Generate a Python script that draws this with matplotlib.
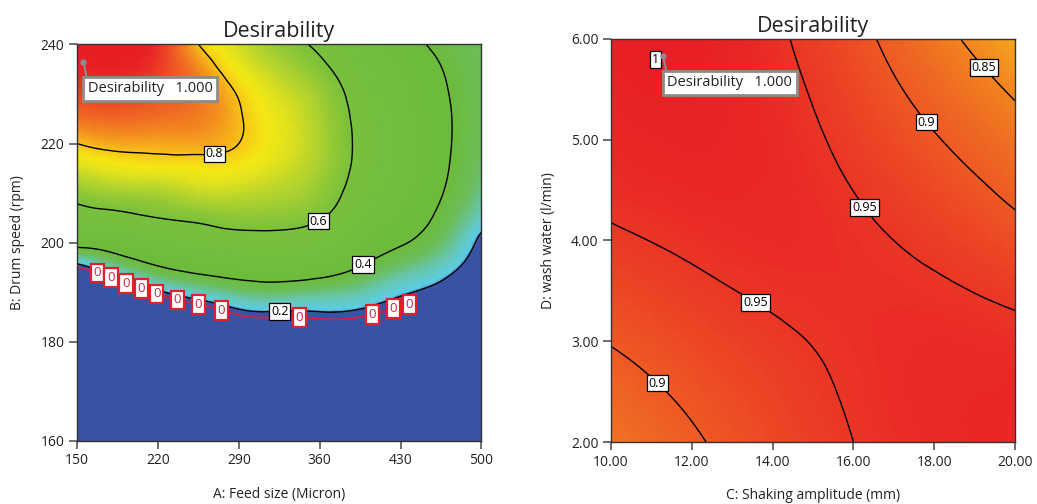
import numpy as np
import matplotlib
matplotlib.use("Agg")
import matplotlib.pyplot as plt
import matplotlib.tri as mtri
from matplotlib.colors import LinearSegmentedColormap

plt.rcParams['font.family'] = ['Open Sans', 'DejaVu Sans']

# ---------------- Left panel: A (Feed size) x B (Drum speed) ----------------
feed_size = [150, 185, 220, 255, 290, 325, 360, 395, 430, 465, 500]
drum_speed = [160, 170, 180, 185, 190, 195, 200, 205, 210, 215, 220, 225, 230, 235, 240]
# desirability response (rows = drum speed, cols = feed size);
# values below the 0.2 cut are shown as 0 (blue zone)
desir_feed_drum = [
    [-1.95, -1.75, -1.25, -1.05, -0.85, -0.80, -0.78, -0.72, -0.65, -0.60, -0.65],
    [-1.35, -1.15, -0.75, -0.60, -0.45, -0.40, -0.38, -0.33, -0.30, -0.30, -0.40],
    [-0.75, -0.56, -0.28, -0.15, -0.05, -0.02, 0.00, 0.02, 0.00, -0.04, -0.15],
    [-0.45, -0.27, -0.05, 0.06, 0.145, 0.16, 0.17, 0.16, 0.12, 0.07, -0.05],
    [-0.15, 0.02, 0.18, 0.26, 0.315, 0.33, 0.31, 0.28, 0.215, 0.16, 0.05],
    [0.15, 0.29, 0.39, 0.44, 0.47, 0.48, 0.46, 0.395, 0.32, 0.25, 0.13],
    [0.44, 0.47, 0.51, 0.54, 0.56, 0.565, 0.54, 0.47, 0.41, 0.33, 0.17],
    [0.55, 0.575, 0.60, 0.62, 0.64, 0.635, 0.607, 0.52, 0.455, 0.378, 0.25],
    [0.64, 0.67, 0.68, 0.71, 0.71, 0.69, 0.65, 0.555, 0.48, 0.405, 0.30],
    [0.73, 0.755, 0.765, 0.77, 0.765, 0.73, 0.675, 0.575, 0.495, 0.417, 0.33],
    [0.80, 0.82, 0.82, 0.822, 0.80, 0.75, 0.685, 0.58, 0.50, 0.421, 0.345],
    [0.87, 0.88, 0.87, 0.855, 0.806, 0.75, 0.68, 0.575, 0.495, 0.42, 0.35],
    [0.93, 0.94, 0.91, 0.865, 0.795, 0.73, 0.665, 0.56, 0.48, 0.413, 0.35],
    [0.98, 0.99, 0.94, 0.845, 0.76, 0.695, 0.625, 0.535, 0.465, 0.402, 0.345],
    [1.02, 1.03, 0.96, 0.80, 0.725, 0.65, 0.58, 0.51, 0.44, 0.38, 0.34],
]
left_levels = [0.2, 0.4, 0.6, 0.8]
left_label_pos = [(268, 219.5), (352, 207.5), (395.5, 196.5), (325, 187.9)]
zero_cut = 0.2
zero_line_level = 0.16
zero_line_max_feed = 440
zero_label_pos = [(168.5, 194.6), (180.6, 193.7), (193.5, 192.6), (207.4, 191.7),
                  (220.3, 190.6), (238.3, 189.7), (255.6, 188.4), (276.6, 187.6),
                  (343.0, 186.8), (403.5, 187.6), (421.4, 188.6), (434.7, 189.8)]
opt_left = (155.5, 236.5)

# ---------------- Right panel: C (Shaking amplitude) x D (wash water) ----------------
shaking_amp = [10, 12, 14, 16, 18, 20]
wash_water = [2, 3, 4, 5, 6]
desir_shake_wash = [
    [0.868, 0.895, 0.923, 0.950, 0.968, 0.978],
    [0.902, 0.923, 0.943, 0.958, 0.966, 0.962],
    [0.943, 0.958, 0.966, 0.958, 0.940, 0.915],
    [0.975, 0.983, 0.970, 0.938, 0.903, 0.868],
    [0.993, 0.995, 0.960, 0.914, 0.865, 0.820],
]
right_levels = [0.85, 0.9, 0.95]
right_label_pos = [(19.3, 5.74), (17.88, 5.2), (16.12, 4.28), (13.75, 3.49), (11.28, 2.64)]
opt_right = (11.29, 5.83)
opt_value = 1.000

# Design-Expert like colour ramp
cmap = LinearSegmentedColormap.from_list('dx', [
    (0.00, '#3953a4'), (0.195, '#3f70b9'), (0.21, '#5ccde6'), (0.27, '#66c7b4'),
    (0.34, '#6cbd5a'), (0.40, '#6cbb3c'), (0.60, '#78c03d'), (0.65, '#92c936'),
    (0.70, '#b8d52d'), (0.74, '#e0e21e'), (0.77, '#f5e814'), (0.795, '#f7cd17'),
    (0.815, '#f6b01b'), (0.845, '#f38a1f'), (0.88, '#ef6a23'), (0.93, '#ec4425'),
    (0.97, '#e92a26'), (1.00, '#e81e25')])


def smooth_field(xs, ys, z, subdiv=4):
    xs = np.asarray(xs, float)
    ys = np.asarray(ys, float)
    z = np.asarray(z, float)
    u = (xs - xs.min()) / (xs.max() - xs.min())
    v = (ys - ys.min()) / (ys.max() - ys.min())
    U, V = np.meshgrid(u, v)
    nx, ny = len(xs), len(ys)
    tris = []
    for j in range(ny - 1):
        for i in range(nx - 1):
            a = j * nx + i
            tris.append([a, a + 1, a + nx + 1])
            tris.append([a, a + nx + 1, a + nx])
    t = mtri.Triangulation(U.ravel(), V.ravel(), np.array(tris))
    interp = mtri.CubicTriInterpolator(t, z.ravel(), kind='min_E')
    tr, zr = mtri.UniformTriRefiner(t).refine_field(z.ravel(), triinterpolator=interp,
                                                     subdiv=subdiv)
    x = xs.min() + tr.x * (xs.max() - xs.min())
    y = ys.min() + tr.y * (ys.max() - ys.min())
    return mtri.Triangulation(x, y, tr.triangles), zr


def style_axes(ax):
    for s in ax.spines.values():
        s.set_linewidth(1.0)
        s.set_color('#333333')
    ax.tick_params(direction='out', length=6, width=1.2, color='#555555',
                   labelsize=10, labelcolor='#222222', pad=3)


def box_labels(texts, ec, lw, pad=0.15):
    for t in texts:
        t.set_rotation(0)
        t.set_bbox(dict(boxstyle=f'square,pad={pad}', fc='white', ec=ec, lw=lw))
        t.set_zorder(8)


def flag(ax, pt, value):
    ax.plot([pt[0]], [pt[1]], 'o', ms=3.5, color='#8c8c8c', zorder=9)
    ax.annotate(f'Desirability   {value:.3f}', xy=pt, xytext=(3, -14),
                textcoords='offset points', ha='left', va='top', fontsize=10.5,
                color='#222222', zorder=9,
                bbox=dict(boxstyle='square,pad=0.3', fc='white', ec='#8c8c8c', lw=2),
                arrowprops=dict(arrowstyle='-', color='#8c8c8c', lw=1.5,
                                shrinkA=0, shrinkB=0, relpos=(0, 1)))


fig = plt.figure(figsize=(10.37, 5.04), dpi=100)

# ---- left
ax1 = fig.add_axes([0.0743, 0.125, 0.390, 0.787])
tri1, z1 = smooth_field(feed_size, drum_speed, desir_feed_drum)
d1 = np.where(z1 < zero_cut, 0.0, np.clip(z1, 0, 1))
ax1.tripcolor(tri1, d1, shading='gouraud', cmap=cmap, vmin=0, vmax=1)
cs1 = ax1.tricontour(tri1, z1, levels=left_levels, colors='black', linewidths=1.0)
zmask = tri1.x[tri1.triangles].mean(axis=1) > zero_line_max_feed
tri1z = mtri.Triangulation(tri1.x, tri1.y, tri1.triangles, mask=zmask)
cz1 = ax1.tricontour(tri1z, z1, levels=[zero_line_level], colors='#d0204a', linewidths=1.3)
lab1 = ax1.clabel(cs1, fmt='%g', manual=left_label_pos, inline=False, fontsize=9)
box_labels(lab1, 'black', 0.9)
lab0 = ax1.clabel(cz1, fmt=lambda v: '0', manual=zero_label_pos, inline=False, fontsize=9.5)
box_labels(lab0, '#e0202a', 1.6, pad=0.22)
flag(ax1, opt_left, opt_value)
ax1.set_xlim(150, 500)
ax1.set_ylim(160, 240)
ax1.set_xticks([150, 220, 290, 360, 430, 500])
ax1.set_yticks([160, 180, 200, 220, 240])
style_axes(ax1)
ax1.set_title('Desirability', fontsize=15.5, pad=5, color='#222222')
ax1.set_xlabel('A: Feed size (Micron)', fontsize=10, labelpad=13, color='#222222')
ax1.set_ylabel('B: Drum speed (rpm)', fontsize=10, labelpad=11, color='#222222')

# ---- right
ax2 = fig.add_axes([0.5892, 0.123, 0.3896, 0.800])
tri2, z2 = smooth_field(shaking_amp, wash_water, desir_shake_wash)
ax2.tripcolor(tri2, np.clip(z2, 0, 1), shading='gouraud', cmap=cmap, vmin=0, vmax=1)
cs2 = ax2.tricontour(tri2, z2, levels=right_levels, colors='black', linewidths=1.0)
lab2 = ax2.clabel(cs2, fmt='%g', manual=right_label_pos, inline=False, fontsize=9)
box_labels(lab2, 'black', 0.9)
ax2.annotate('1', xy=opt_right, xytext=(-5.5, -2.5), textcoords='offset points',
             ha='center', va='center', fontsize=9, zorder=9,
             bbox=dict(boxstyle='square,pad=0.15', fc='white', ec='black', lw=0.9))
flag(ax2, opt_right, opt_value)
ax2.set_xlim(10, 20)
ax2.set_ylim(2, 6)
ax2.set_xticks(shaking_amp)
ax2.set_yticks(wash_water)
ax2.xaxis.set_major_formatter(matplotlib.ticker.FormatStrFormatter('%.2f'))
ax2.yaxis.set_major_formatter(matplotlib.ticker.FormatStrFormatter('%.2f'))
style_axes(ax2)
ax2.set_title('Desirability', fontsize=15.5, pad=5, color='#222222')
ax2.set_xlabel('C: Shaking amplitude (mm)', fontsize=10, labelpad=13, color='#222222')
ax2.set_ylabel('D: wash water (l/min)', fontsize=10, labelpad=11, color='#222222')

fig.savefig('out.png', dpi=100)
